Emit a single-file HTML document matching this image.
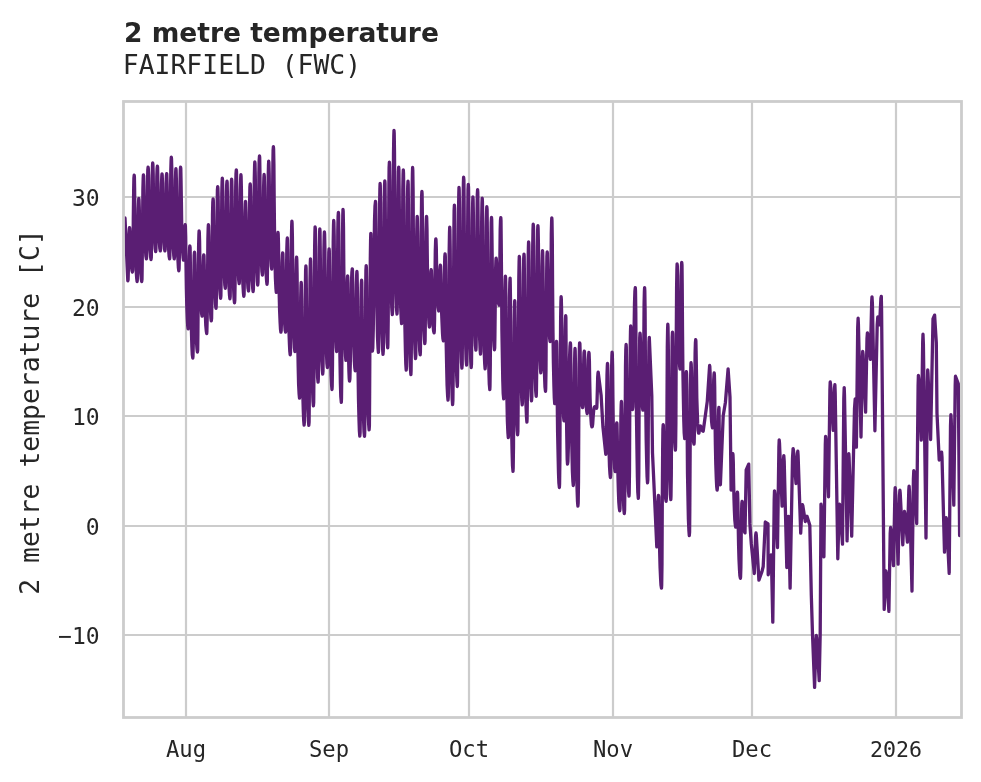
<!DOCTYPE html><html><head><meta charset="utf-8"><title>2 metre temperature</title>
<style>html,body{margin:0;padding:0;background:#fff;overflow:hidden;width:981px;height:782px;}svg{display:block;will-change:transform;}text{fill:#262626;}.m{font-family:"DejaVu Sans Mono", "Liberation Mono", monospace;}.t{font-family:"DejaVu Sans","Liberation Sans",sans-serif;font-weight:bold;}</style></head><body>
<svg width="981" height="782" viewBox="0 0 981 782">
<rect width="981" height="782" fill="#fff"/>
<g stroke="#cccccc" stroke-width="2.2" fill="none">
<line x1="186" y1="101.5" x2="186" y2="717.5"/>
<line x1="329" y1="101.5" x2="329" y2="717.5"/>
<line x1="469" y1="101.5" x2="469" y2="717.5"/>
<line x1="613" y1="101.5" x2="613" y2="717.5"/>
<line x1="752" y1="101.5" x2="752" y2="717.5"/>
<line x1="896" y1="101.5" x2="896" y2="717.5"/>
<line x1="123.5" y1="197" x2="961.5" y2="197"/>
<line x1="123.5" y1="307" x2="961.5" y2="307"/>
<line x1="123.5" y1="416" x2="961.5" y2="416"/>
<line x1="123.5" y1="526" x2="961.5" y2="526"/>
<line x1="123.5" y1="635" x2="961.5" y2="635"/>
</g>
<clipPath id="c"><rect x="123.5" y="101.5" width="838.0" height="616.0"/></clipPath>
<path clip-path="url(#c)" d="M125.0 218.0 L127.8 280.8 L128.1 279.7 L128.3 272.8 L128.7 251.5 L129.0 234.5 L129.3 229.2 L129.5 227.6 L129.7 228.3 L130.0 232.9 L130.3 244.5 L130.7 255.2 L131.1 262.4 L131.6 267.7 L132.0 270.8 L132.4 272.1 L132.7 270.2 L133.0 257.6 L133.3 218.8 L133.7 187.8 L133.9 178.1 L134.2 175.2 L134.4 176.7 L134.6 187.9 L134.9 215.6 L135.3 241.1 L135.8 258.1 L136.2 270.8 L136.7 278.3 L137.1 281.5 L137.3 279.8 L137.6 269.0 L137.9 235.8 L138.3 209.3 L138.6 201.0 L138.8 198.5 L139.0 199.8 L139.3 208.5 L139.6 230.1 L140.0 249.9 L140.4 263.2 L140.8 273.2 L141.3 279.0 L141.7 281.5 L142.0 279.3 L142.2 265.5 L142.6 222.8 L142.9 188.7 L143.2 178.1 L143.4 174.9 L143.7 176.1 L143.9 185.0 L144.2 206.8 L144.6 226.9 L145.1 240.4 L145.5 250.5 L145.9 256.3 L146.4 258.9 L146.6 257.0 L146.9 245.1 L147.2 208.4 L147.6 179.1 L147.8 169.9 L148.1 167.2 L148.3 168.6 L148.6 178.2 L148.9 202.3 L149.3 224.4 L149.7 239.2 L150.1 250.3 L150.6 256.8 L151.0 259.5 L151.3 257.6 L151.5 245.0 L151.9 206.4 L152.2 175.5 L152.5 165.8 L152.7 162.9 L152.9 164.2 L153.2 173.6 L153.5 196.6 L153.9 217.9 L154.3 232.1 L154.8 242.7 L155.2 248.9 L155.7 251.6 L155.9 249.8 L156.2 238.8 L156.5 204.6 L156.8 177.3 L157.1 168.8 L157.4 166.2 L157.6 167.5 L157.8 176.4 L158.2 198.4 L158.5 218.7 L159.0 232.3 L159.4 242.4 L159.8 248.3 L160.3 250.9 L160.6 249.3 L160.8 239.3 L161.2 208.5 L161.5 183.8 L161.8 176.1 L162.0 173.8 L162.2 175.0 L162.5 183.1 L162.8 203.1 L163.2 221.6 L163.6 233.9 L164.1 243.2 L164.5 248.6 L164.9 250.9 L165.2 249.3 L165.4 239.3 L165.8 208.3 L166.1 183.6 L166.4 175.9 L166.7 173.6 L166.8 174.8 L167.1 183.8 L167.4 206.0 L167.8 226.4 L168.3 240.1 L168.7 250.3 L169.1 256.3 L169.6 258.9 L169.8 256.8 L170.1 243.6 L170.4 202.9 L170.8 170.3 L171.1 160.1 L171.3 157.1 L171.5 158.6 L171.8 169.3 L172.1 195.8 L172.5 220.2 L172.9 236.5 L173.3 248.7 L173.8 255.8 L174.2 258.9 L174.5 257.1 L174.7 245.3 L175.1 209.2 L175.4 180.4 L175.7 171.3 L175.9 168.6 L176.1 170.2 L176.4 180.9 L176.7 207.5 L177.1 232.0 L177.5 248.3 L178.0 260.6 L178.4 267.8 L178.8 270.8 L179.1 268.8 L179.4 255.3 L179.7 213.8 L180.1 180.7 L180.3 170.3 L180.6 167.2 L180.8 168.6 L181.0 178.3 L181.4 202.5 L181.7 224.8 L182.2 239.7 L182.6 250.9 L183.1 257.4 L183.5 260.2 L183.8 259.5 L184.0 254.9 L184.3 240.7 L184.7 229.3 L185.0 225.7 L185.2 224.7 L185.4 226.2 L185.7 237.2 L186.0 264.3 L186.4 289.3 L186.8 305.9 L187.3 318.4 L187.7 325.7 L188.1 328.9 L188.4 327.2 L188.7 316.4 L189.0 283.3 L189.3 256.7 L189.6 248.4 L189.8 245.9 L190.1 247.6 L190.3 259.4 L190.6 288.6 L191.0 315.5 L191.5 333.4 L191.9 346.9 L192.3 354.7 L192.8 358.1 L193.0 356.0 L193.3 342.2 L193.6 299.9 L194.0 266.0 L194.2 255.4 L194.5 252.2 L194.7 253.7 L195.0 264.2 L195.3 290.2 L195.7 314.1 L196.1 330.1 L196.5 342.1 L197.0 349.1 L197.4 352.1 L197.7 349.7 L197.9 333.9 L198.3 285.5 L198.6 246.7 L198.9 234.6 L199.1 230.9 L199.3 232.2 L199.6 241.2 L199.9 263.3 L200.3 283.8 L200.7 297.5 L201.2 307.7 L201.6 313.7 L202.1 316.2 L202.3 315.0 L202.6 307.0 L202.9 282.5 L203.3 262.8 L203.5 256.7 L203.8 254.8 L204.0 256.0 L204.2 264.3 L204.6 284.7 L204.9 303.6 L205.4 316.2 L205.8 325.6 L206.3 331.1 L206.7 333.5 L206.9 331.3 L207.2 317.2 L207.6 273.6 L207.9 238.8 L208.2 227.9 L208.4 224.7 L208.6 226.1 L208.9 236.2 L209.2 261.2 L209.6 284.3 L210.0 299.7 L210.5 311.3 L210.9 318.0 L211.3 320.9 L211.6 318.4 L211.8 302.6 L212.2 253.7 L212.5 214.7 L212.8 202.5 L213.1 198.8 L213.3 200.4 L213.5 211.9 L213.8 240.4 L214.2 266.7 L214.7 284.2 L215.1 297.3 L215.5 305.0 L216.0 308.3 L216.2 305.8 L216.5 290.0 L216.8 241.3 L217.2 202.4 L217.4 190.2 L217.7 186.6 L217.9 188.2 L218.2 200.0 L218.5 229.0 L218.9 255.8 L219.3 273.7 L219.7 287.1 L220.2 294.9 L220.6 298.3 L220.9 295.9 L221.1 280.3 L221.5 232.2 L221.8 193.8 L222.1 181.8 L222.3 178.2 L222.5 179.9 L222.8 191.4 L223.1 220.1 L223.5 246.5 L223.9 264.1 L224.4 277.3 L224.8 285.0 L225.3 288.3 L225.5 286.2 L225.8 272.2 L226.1 229.4 L226.5 195.1 L226.7 184.3 L227.0 181.1 L227.2 182.9 L227.4 195.3 L227.8 225.9 L228.2 254.2 L228.6 273.0 L229.0 287.2 L229.5 295.4 L229.9 298.9 L230.2 296.6 L230.4 281.0 L230.8 233.1 L231.1 194.7 L231.4 182.7 L231.6 179.1 L231.8 181.0 L232.1 194.0 L232.4 226.2 L232.8 255.9 L233.2 275.7 L233.7 290.6 L234.1 299.2 L234.5 302.9 L234.8 300.3 L235.1 283.0 L235.4 229.7 L235.7 187.1 L236.0 173.8 L236.3 169.8 L236.5 171.5 L236.7 183.5 L237.1 213.1 L237.4 240.4 L237.9 258.6 L238.3 272.3 L238.7 280.2 L239.2 283.7 L239.4 281.5 L239.7 267.3 L240.0 223.7 L240.4 188.8 L240.7 177.9 L240.9 174.7 L241.1 176.5 L241.4 189.3 L241.7 220.9 L242.1 250.1 L242.5 269.5 L242.9 284.1 L243.4 292.6 L243.8 296.3 L244.1 294.4 L244.3 282.1 L244.7 244.1 L245.0 213.7 L245.3 204.2 L245.5 201.3 L245.7 202.7 L246.0 212.1 L246.3 235.4 L246.7 256.9 L247.2 271.3 L247.6 282.0 L248.0 288.3 L248.5 291.0 L248.7 288.8 L249.0 274.9 L249.3 232.1 L249.7 197.8 L249.9 187.1 L250.2 183.9 L250.4 185.5 L250.7 196.8 L251.0 224.8 L251.3 250.7 L251.8 267.9 L252.2 280.9 L252.7 288.4 L253.1 291.6 L253.4 289.1 L253.6 272.2 L254.0 220.3 L254.3 178.7 L254.6 165.8 L254.8 161.8 L255.0 163.7 L255.3 176.6 L255.6 208.7 L256.0 238.2 L256.4 257.9 L256.9 272.7 L257.3 281.3 L257.7 285.0 L258.0 282.4 L258.3 265.6 L258.6 214.1 L258.9 172.8 L259.2 159.9 L259.5 156.0 L259.7 157.8 L259.9 170.3 L260.2 201.3 L260.6 229.8 L261.1 248.9 L261.5 263.2 L261.9 271.5 L262.4 275.1 L262.6 273.1 L262.9 260.0 L263.2 219.8 L263.6 187.6 L263.9 177.5 L264.1 174.5 L264.3 176.1 L264.6 187.7 L264.9 216.2 L265.3 242.6 L265.7 260.2 L266.1 273.4 L266.6 281.0 L267.0 284.3 L267.3 281.9 L267.5 265.9 L267.9 216.6 L268.2 177.2 L268.5 164.9 L268.7 161.2 L268.9 162.8 L269.2 174.1 L269.5 202.1 L269.9 228.0 L270.4 245.2 L270.8 258.2 L271.2 265.7 L271.7 269.0 L271.9 266.5 L272.2 250.6 L272.5 201.7 L272.9 162.6 L273.1 150.4 L273.4 146.7 L273.6 148.9 L273.9 164.2 L274.2 202.1 L274.6 237.0 L275.0 260.3 L275.4 277.8 L275.9 288.0 L276.3 292.4 L276.6 291.2 L276.8 283.4 L277.2 259.4 L277.5 240.2 L277.8 234.2 L278.0 232.4 L278.2 233.9 L278.5 244.4 L278.8 270.4 L279.2 294.3 L279.6 310.2 L280.1 322.2 L280.5 329.2 L280.9 332.2 L281.2 330.6 L281.5 320.3 L281.8 288.5 L282.1 263.1 L282.4 255.2 L282.7 252.8 L282.9 254.0 L283.1 262.3 L283.4 283.0 L283.8 302.0 L284.3 314.7 L284.7 324.2 L285.1 329.8 L285.6 332.2 L285.8 330.3 L286.1 318.1 L286.4 280.4 L286.8 250.2 L287.1 240.8 L287.3 238.0 L287.5 239.7 L287.8 252.0 L288.1 282.4 L288.5 310.4 L288.9 329.1 L289.4 343.2 L289.8 351.4 L290.2 354.9 L290.5 352.2 L290.7 334.8 L291.1 281.4 L291.4 238.6 L291.7 225.2 L291.9 221.2 L292.1 223.2 L292.4 236.9 L292.7 270.8 L293.1 302.1 L293.6 322.9 L294.0 338.6 L294.4 347.7 L294.9 351.6 L295.1 349.8 L295.4 337.5 L295.7 299.7 L296.1 269.5 L296.3 260.0 L296.6 257.2 L296.8 259.3 L297.1 274.1 L297.4 310.8 L297.8 344.6 L298.2 367.1 L298.6 384.1 L299.1 393.9 L299.5 398.2 L299.8 395.9 L300.0 380.8 L300.4 334.5 L300.7 297.5 L301.0 285.9 L301.2 282.4 L301.4 284.6 L301.7 299.6 L302.0 336.6 L302.4 370.8 L302.8 393.6 L303.3 410.8 L303.7 420.7 L304.1 425.0 L304.4 421.8 L304.7 401.1 L305.0 337.5 L305.4 286.5 L305.6 270.6 L305.9 265.8 L306.1 268.2 L306.3 285.0 L306.6 326.5 L307.0 364.8 L307.5 390.3 L307.9 409.5 L308.4 420.6 L308.8 425.4 L309.1 422.1 L309.3 400.4 L309.6 333.8 L310.0 280.6 L310.3 263.9 L310.5 258.9 L310.7 261.1 L311.0 276.6 L311.3 314.8 L311.7 350.0 L312.1 373.6 L312.6 391.2 L313.0 401.5 L313.4 405.9 L313.7 402.3 L313.9 379.0 L314.3 307.4 L314.6 250.1 L314.9 232.2 L315.1 226.9 L315.4 229.2 L315.6 245.5 L315.9 285.9 L316.3 323.2 L316.8 348.0 L317.2 366.7 L317.6 377.6 L318.1 382.2 L318.3 379.1 L318.6 359.2 L318.9 297.8 L319.3 248.7 L319.6 233.4 L319.8 228.8 L320.0 231.0 L320.2 246.2 L320.6 284.0 L321.0 318.8 L321.4 342.0 L321.8 359.5 L322.3 369.6 L322.7 374.0 L323.0 371.1 L323.2 352.6 L323.6 295.8 L323.9 250.3 L324.2 236.1 L324.4 231.8 L324.6 233.8 L324.9 248.1 L325.2 283.4 L325.6 316.0 L326.0 337.7 L326.5 354.0 L326.9 363.5 L327.4 367.6 L327.6 365.2 L327.9 349.8 L328.2 302.3 L328.6 264.3 L328.8 252.4 L329.1 248.8 L329.3 250.9 L329.5 265.7 L329.9 302.3 L330.2 336.1 L330.7 358.6 L331.1 375.5 L331.6 385.3 L332.0 389.5 L332.2 386.1 L332.5 364.1 L332.9 296.5 L333.2 242.3 L333.5 225.4 L333.7 220.4 L333.9 222.3 L334.2 236.1 L334.5 270.2 L334.9 301.8 L335.3 322.8 L335.8 338.5 L336.2 347.7 L336.6 351.6 L336.9 348.9 L337.1 330.8 L337.5 275.0 L337.8 230.5 L338.1 216.5 L338.4 212.4 L338.6 215.2 L338.8 235.2 L339.1 284.6 L339.5 330.2 L340.0 360.6 L340.4 383.4 L340.8 396.7 L341.3 402.4 L341.5 398.6 L341.8 373.5 L342.1 296.3 L342.5 234.5 L342.8 215.2 L343.0 209.4 L343.2 211.7 L343.5 227.5 L343.8 266.8 L344.2 303.0 L344.6 327.1 L345.0 345.2 L345.5 355.8 L345.9 360.3 L346.2 358.6 L346.4 347.6 L346.8 313.8 L347.1 286.8 L347.4 278.3 L347.6 275.8 L347.8 277.4 L347.9 288.4 L348.1 315.8 L348.4 341.1 L348.6 358.0 L348.9 370.6 L349.2 378.0 L349.5 381.1 L349.9 378.9 L350.3 364.3 L350.9 319.3 L351.4 283.4 L351.9 272.1 L352.3 268.8 L352.5 270.3 L352.7 281.0 L353.1 307.6 L353.4 332.1 L353.9 348.4 L354.3 360.7 L354.8 367.9 L355.2 370.9 L355.4 368.9 L355.7 356.0 L356.1 316.2 L356.4 284.4 L356.7 274.4 L356.9 271.4 L357.1 273.9 L357.4 291.2 L357.7 334.0 L358.1 373.5 L358.5 399.8 L359.0 419.6 L359.4 431.1 L359.8 436.1 L360.1 432.9 L360.4 412.7 L360.7 350.3 L361.0 300.4 L361.3 284.9 L361.6 280.2 L361.8 282.5 L362.0 298.9 L362.3 339.6 L362.7 377.1 L363.2 402.1 L363.6 420.8 L364.0 431.8 L364.5 436.4 L364.7 433.0 L365.0 410.8 L365.3 342.5 L365.7 287.8 L365.9 270.7 L366.2 265.6 L366.4 268.0 L366.7 285.3 L367.0 328.0 L367.4 367.4 L367.8 393.7 L368.2 413.4 L368.7 424.9 L369.1 429.8 L369.4 425.9 L369.6 400.3 L370.0 321.7 L370.3 258.8 L370.6 239.2 L370.8 233.3 L370.9 235.0 L371.1 247.4 L371.2 278.0 L371.4 306.2 L371.7 325.1 L371.9 339.2 L372.1 347.4 L372.4 351.0 L372.8 348.0 L373.3 328.5 L373.9 268.7 L374.5 220.8 L375.0 205.9 L375.5 201.4 L375.7 203.7 L375.9 219.5 L376.3 258.8 L376.6 295.0 L377.1 319.1 L377.5 337.2 L378.0 347.8 L378.4 352.3 L378.6 348.9 L378.9 327.0 L379.2 259.4 L379.6 205.4 L379.9 188.5 L380.1 183.5 L380.3 186.0 L380.6 204.0 L380.9 248.4 L381.3 289.4 L381.7 316.7 L382.2 337.2 L382.6 349.2 L383.0 354.3 L383.3 350.8 L383.6 328.3 L383.9 258.9 L384.2 203.4 L384.5 186.0 L384.8 180.8 L385.0 183.3 L385.2 200.9 L385.5 244.3 L385.9 284.4 L386.4 311.1 L386.8 331.2 L387.2 342.9 L387.7 347.9 L387.9 344.2 L388.2 320.1 L388.5 245.8 L388.9 186.3 L389.1 167.8 L389.4 162.2 L389.6 164.5 L389.9 180.5 L390.2 220.1 L390.6 256.7 L391.0 281.1 L391.4 299.4 L391.9 310.1 L392.3 314.7 L392.6 311.0 L392.8 287.0 L393.2 213.3 L393.5 154.3 L393.8 135.8 L394.0 130.3 L394.2 133.1 L394.5 152.3 L394.8 200.1 L395.2 244.2 L395.6 273.6 L396.1 295.6 L396.5 308.5 L397.0 314.0 L397.2 311.1 L397.5 292.0 L397.8 233.2 L398.2 186.2 L398.4 171.5 L398.7 167.1 L398.9 169.5 L399.1 185.9 L399.5 226.6 L399.8 264.2 L400.3 289.2 L400.7 308.0 L401.2 318.9 L401.6 323.6 L401.9 320.6 L402.1 300.6 L402.5 239.0 L402.8 189.8 L403.1 174.4 L403.3 169.8 L403.5 172.8 L403.8 193.8 L404.1 245.9 L404.5 294.0 L404.9 326.1 L405.4 350.1 L405.8 364.1 L406.2 370.2 L406.5 366.4 L406.8 341.8 L407.1 266.2 L407.4 205.8 L407.7 186.9 L408.0 181.2 L408.2 184.1 L408.4 204.4 L408.7 254.7 L409.1 301.1 L409.6 332.0 L410.0 355.2 L410.4 368.8 L410.9 374.6 L411.1 370.4 L411.4 343.5 L411.7 260.7 L412.1 194.4 L412.4 173.7 L412.6 167.5 L412.8 170.4 L413.1 190.4 L413.4 240.1 L413.8 286.0 L414.2 316.6 L414.6 339.5 L415.1 352.9 L415.5 358.6 L415.8 355.8 L416.0 337.3 L416.4 280.4 L416.7 234.9 L417.0 220.7 L417.2 216.4 L417.4 218.5 L417.7 233.0 L418.0 269.0 L418.4 302.3 L418.8 324.4 L419.3 341.0 L419.7 350.7 L420.2 354.9 L420.4 351.6 L420.7 330.4 L421.0 265.0 L421.4 212.7 L421.6 196.3 L421.9 191.4 L422.1 193.7 L422.3 209.7 L422.7 249.2 L423.1 285.8 L423.5 310.1 L423.9 328.4 L424.4 339.0 L424.8 343.6 L425.1 341.0 L425.3 324.5 L425.7 273.6 L426.0 232.8 L426.3 220.1 L426.5 216.3 L426.7 217.9 L427.0 229.6 L427.3 258.3 L427.7 284.9 L428.1 302.6 L428.6 315.9 L429.0 323.6 L429.4 327.0 L429.7 325.8 L430.0 318.4 L430.3 295.5 L430.6 277.1 L430.9 271.4 L431.2 269.7 L431.4 270.7 L431.6 277.3 L431.9 293.7 L432.3 308.9 L432.8 319.0 L433.2 326.6 L433.6 331.0 L434.1 332.9 L434.3 331.1 L434.6 318.8 L434.9 281.2 L435.3 251.1 L435.6 241.7 L435.8 238.9 L436.0 239.9 L436.3 247.5 L436.6 266.3 L437.0 283.6 L437.4 295.1 L437.8 303.8 L438.3 308.8 L438.7 311.0 L439.0 310.1 L439.2 304.1 L439.6 285.8 L439.9 271.1 L440.2 266.6 L440.4 265.2 L440.6 266.3 L440.9 274.3 L441.2 294.0 L441.6 312.1 L442.1 324.3 L442.5 333.3 L442.9 338.6 L443.4 340.9 L443.6 339.2 L443.9 327.8 L444.2 293.0 L444.6 265.1 L444.8 256.4 L445.1 253.8 L445.3 255.9 L445.6 271.3 L445.9 309.4 L446.2 344.5 L446.7 367.9 L447.1 385.4 L447.6 395.7 L448.0 400.1 L448.3 396.6 L448.5 374.1 L448.9 305.0 L449.2 249.7 L449.5 232.4 L449.7 227.2 L449.9 229.8 L450.2 248.5 L450.5 294.6 L450.9 337.2 L451.3 365.7 L451.8 387.0 L452.2 399.4 L452.6 404.7 L452.9 400.7 L453.2 374.8 L453.5 295.0 L453.9 231.2 L454.1 211.2 L454.4 205.2 L454.6 208.0 L454.8 227.0 L455.1 274.1 L455.5 317.6 L456.0 346.6 L456.4 368.4 L456.9 381.1 L457.3 386.5 L457.5 382.5 L457.8 356.6 L458.1 277.0 L458.5 213.3 L458.8 193.4 L459.0 187.4 L459.2 190.2 L459.5 209.1 L459.8 256.1 L460.2 299.5 L460.6 328.4 L461.1 350.1 L461.5 362.7 L461.9 368.2 L462.2 364.4 L462.4 339.5 L462.8 263.1 L463.1 202.0 L463.4 182.9 L463.6 177.2 L463.9 180.0 L464.1 199.8 L464.4 248.7 L464.8 293.8 L465.2 323.9 L465.7 346.4 L466.1 359.6 L466.6 365.2 L466.8 361.6 L467.1 338.1 L467.4 265.8 L467.8 207.9 L468.0 189.8 L468.3 184.4 L468.5 187.1 L468.8 206.4 L469.1 254.0 L469.4 297.9 L469.9 327.2 L470.3 349.2 L470.8 362.0 L471.2 367.5 L471.5 364.1 L471.7 341.9 L472.1 273.6 L472.4 218.9 L472.7 201.9 L472.9 196.8 L473.1 199.1 L473.4 215.2 L473.7 255.1 L474.1 291.9 L474.5 316.5 L475.0 334.9 L475.4 345.6 L475.9 350.2 L476.1 347.0 L476.4 326.1 L476.7 261.9 L477.1 210.6 L477.3 194.5 L477.6 189.7 L477.8 192.2 L478.0 209.4 L478.4 252.2 L478.7 291.7 L479.2 318.0 L479.6 337.8 L480.1 349.3 L480.5 354.2 L480.7 351.1 L481.0 330.8 L481.3 268.3 L481.7 218.4 L482.0 202.8 L482.2 198.1 L482.4 200.6 L482.7 218.6 L483.0 263.0 L483.4 303.9 L483.8 331.3 L484.2 351.8 L484.7 363.7 L485.1 368.8 L485.4 365.6 L485.6 344.5 L486.0 279.7 L486.3 227.8 L486.6 211.6 L486.8 206.7 L487.1 209.5 L487.3 228.7 L487.6 276.2 L488.0 320.2 L488.4 349.4 L488.9 371.4 L489.3 384.2 L489.8 389.7 L490.0 386.2 L490.3 363.9 L490.6 294.9 L491.0 239.7 L491.2 222.5 L491.5 217.3 L491.7 219.3 L491.9 233.2 L492.3 267.7 L492.6 299.5 L493.1 320.7 L493.5 336.6 L494.0 345.9 L494.4 349.8 L494.7 348.0 L494.9 336.1 L495.3 299.4 L495.6 270.1 L495.9 260.9 L496.1 258.1 L496.3 258.9 L496.6 263.8 L496.9 276.0 L497.3 287.3 L497.7 294.9 L498.2 300.5 L498.6 303.8 L499.1 305.2 L499.3 303.4 L499.6 292.1 L499.9 257.0 L500.2 229.0 L500.5 220.2 L500.8 217.6 L501.0 220.3 L501.2 239.4 L501.6 286.5 L501.9 330.0 L502.4 359.1 L502.8 380.8 L503.2 393.5 L503.7 398.9 L503.9 396.5 L504.2 380.5 L504.6 331.4 L504.9 292.1 L505.2 279.8 L505.4 276.1 L505.6 278.5 L505.9 295.5 L506.2 337.4 L506.6 376.2 L507.0 402.0 L507.4 421.4 L507.9 432.7 L508.3 437.5 L508.6 434.3 L508.8 413.6 L509.2 349.8 L509.5 298.8 L509.8 282.9 L510.1 278.1 L510.2 281.0 L510.5 301.3 L510.8 351.5 L511.2 397.9 L511.6 428.9 L512.1 452.1 L512.5 465.6 L513.0 471.4 L513.2 468.0 L513.5 445.8 L513.8 377.5 L514.2 322.9 L514.5 305.8 L514.7 300.7 L514.9 302.7 L515.1 316.8 L515.5 351.7 L515.9 383.9 L516.3 405.3 L516.7 421.4 L517.2 430.8 L517.6 434.8 L517.9 431.3 L518.1 408.1 L518.5 336.7 L518.8 279.6 L519.1 261.8 L519.3 256.4 L519.5 258.6 L519.8 274.2 L520.1 312.9 L520.5 348.5 L520.9 372.3 L521.4 390.1 L521.8 400.5 L522.2 404.9 L522.5 401.9 L522.8 382.3 L523.1 322.0 L523.5 273.8 L523.7 258.7 L524.0 254.2 L524.2 256.7 L524.4 274.3 L524.8 318.0 L525.1 358.4 L525.6 385.2 L526.0 405.4 L526.5 417.2 L526.9 422.2 L527.1 418.6 L527.4 395.2 L527.8 323.1 L528.1 265.4 L528.4 247.3 L528.6 241.9 L528.8 244.3 L529.1 261.0 L529.4 302.4 L529.8 340.5 L530.2 366.0 L530.6 385.1 L531.1 396.2 L531.5 400.9 L531.8 397.4 L532.0 374.4 L532.4 303.8 L532.7 247.2 L533.0 229.6 L533.2 224.2 L533.5 226.8 L533.7 244.9 L534.0 289.6 L534.4 330.9 L534.9 358.4 L535.3 379.1 L535.7 391.1 L536.2 396.3 L536.4 392.9 L536.7 370.7 L537.0 302.4 L537.4 247.8 L537.6 230.7 L537.9 225.6 L538.1 227.8 L538.4 243.2 L538.7 281.5 L539.1 316.8 L539.5 340.4 L539.9 358.0 L540.4 368.3 L540.8 372.8 L541.1 370.3 L541.3 354.4 L541.7 305.6 L542.0 266.4 L542.3 254.2 L542.5 250.6 L542.7 252.7 L543.0 267.5 L543.3 304.1 L543.7 337.9 L544.1 360.4 L544.6 377.3 L545.0 387.1 L545.5 391.4 L545.7 388.6 L546.0 370.4 L546.3 314.7 L546.7 270.0 L546.9 256.1 L547.2 251.9 L547.4 253.2 L547.6 262.6 L548.0 285.9 L548.3 307.5 L548.8 321.8 L549.2 332.6 L549.7 338.8 L550.1 341.5 L550.4 339.1 L550.6 323.0 L551.0 273.5 L551.3 233.9 L551.6 221.6 L551.8 217.9 L552.0 220.7 L552.3 240.2 L552.6 288.4 L553.0 333.0 L553.4 362.7 L553.9 385.0 L554.3 398.0 L554.7 403.6 L555.0 402.4 L555.2 394.3 L555.6 369.4 L555.9 349.6 L556.2 343.4 L556.5 341.5 L556.7 343.7 L556.9 359.0 L557.2 397.0 L557.6 432.0 L558.1 455.4 L558.5 472.9 L558.9 483.1 L559.4 487.5 L559.6 483.7 L559.9 458.9 L560.2 382.6 L560.6 321.5 L560.9 302.4 L561.1 296.7 L561.3 298.6 L561.6 311.6 L561.9 343.9 L562.3 373.7 L562.7 393.6 L563.1 408.5 L563.6 417.2 L564.0 420.9 L564.3 418.8 L564.5 405.1 L564.9 363.0 L565.2 329.3 L565.5 318.7 L565.7 315.6 L565.9 317.8 L566.0 333.4 L566.2 372.0 L566.4 407.6 L566.7 431.4 L567.0 449.2 L567.2 459.6 L567.5 464.1 L567.9 461.7 L568.4 445.9 L568.9 397.4 L569.5 358.6 L570.0 346.5 L570.4 342.8 L570.6 345.0 L570.8 359.9 L571.2 397.1 L571.5 431.3 L572.0 454.1 L572.4 471.3 L572.9 481.3 L573.3 485.5 L573.5 482.8 L573.8 465.0 L574.1 410.2 L574.5 366.4 L574.8 352.6 L575.0 348.5 L575.2 350.9 L575.5 367.4 L575.8 408.4 L576.2 446.2 L576.6 471.5 L577.1 490.4 L577.5 501.4 L577.9 506.1 L578.2 502.9 L578.5 481.6 L578.8 416.3 L579.1 364.1 L579.4 347.7 L579.6 342.8 L579.9 343.8 L580.1 350.6 L580.4 367.4 L580.8 383.0 L581.3 393.3 L581.7 401.1 L582.1 405.6 L582.6 407.6 L582.8 406.5 L583.1 399.1 L583.4 376.6 L583.8 358.5 L584.0 352.9 L584.3 351.2 L584.5 352.1 L584.8 358.7 L585.1 374.9 L585.5 389.9 L585.9 399.9 L586.3 407.3 L586.8 411.7 L587.2 413.6 L587.5 412.4 L587.7 404.4 L588.1 380.0 L588.4 360.5 L588.7 354.4 L588.9 352.5 L589.1 353.6 L589.4 361.4 L589.7 380.8 L590.1 398.6 L590.5 410.5 L591.0 419.4 L591.4 424.6 L591.9 426.9 L592.3 426.5 L592.7 423.9 L593.2 415.9 L593.8 409.4 L594.2 407.4 L594.6 406.8 L594.8 406.9 L594.9 407.0 L595.1 407.4 L595.4 407.7 L595.6 407.9 L595.9 408.1 L596.2 408.2 L596.5 408.3 L596.8 407.5 L597.0 402.8 L597.4 388.4 L597.7 376.8 L598.0 373.1 L598.2 372.1 L601.1 395.2 L602.9 426.5 L605.8 454.3 L606.0 452.5 L606.3 440.7 L606.6 404.3 L607.0 375.2 L607.3 366.2 L607.5 363.4 L607.7 365.1 L608.0 377.1 L608.3 406.8 L608.7 434.2 L609.1 452.4 L609.5 466.1 L610.0 474.1 L610.4 477.6 L610.7 475.1 L610.9 458.8 L611.3 408.6 L611.6 368.4 L611.9 355.9 L612.1 352.1 L612.3 353.9 L612.6 366.5 L612.9 397.5 L613.3 426.2 L613.8 445.3 L614.2 459.6 L614.6 468.0 L615.1 471.6 L615.3 470.6 L615.6 464.3 L615.9 444.8 L616.3 429.1 L616.5 424.3 L616.8 422.8 L617.0 424.1 L617.2 433.4 L617.6 456.2 L618.0 477.4 L618.4 491.4 L618.8 502.0 L619.3 508.1 L619.7 510.8 L620.0 508.6 L620.2 494.4 L620.6 450.7 L620.9 415.7 L621.2 404.8 L621.4 401.5 L621.6 403.2 L621.9 415.0 L622.2 444.1 L622.6 470.9 L623.0 488.8 L623.5 502.3 L623.9 510.1 L624.3 513.5 L624.6 510.1 L624.9 488.1 L625.2 420.5 L625.5 366.5 L625.8 349.6 L626.1 344.5 L626.3 346.8 L626.5 362.7 L626.9 402.1 L627.2 438.5 L627.7 462.8 L628.1 481.0 L628.5 491.6 L629.0 496.2 L629.2 492.8 L629.5 470.6 L629.8 402.5 L630.2 348.0 L630.5 331.0 L630.7 325.9 L630.8 327.1 L631.0 335.9 L631.2 357.7 L631.4 377.7 L631.7 391.1 L632.0 401.2 L632.2 407.0 L632.5 409.5 L632.9 407.1 L633.4 391.2 L633.9 342.5 L634.5 303.4 L634.9 291.3 L635.3 287.6 L635.5 290.8 L635.8 312.9 L636.1 367.7 L636.5 418.3 L637.0 452.1 L637.4 477.4 L637.8 492.1 L638.3 498.4 L638.5 495.1 L638.8 473.6 L639.1 407.5 L639.5 354.6 L639.7 338.0 L640.0 333.1 L640.2 334.2 L640.5 342.3 L640.8 362.4 L641.1 380.9 L641.6 393.2 L642.0 402.5 L642.5 407.9 L642.9 410.2 L643.2 407.7 L643.4 391.8 L643.8 342.8 L644.1 303.5 L644.4 291.3 L644.6 287.6 L644.8 290.5 L645.1 311.0 L645.4 361.8 L645.8 408.7 L646.2 439.9 L646.7 463.4 L647.1 477.0 L647.5 482.9 L647.8 480.0 L648.1 461.1 L648.4 402.9 L648.8 356.4 L649.0 341.8 L649.3 337.4 L651.8 396.0 L652.5 453.0 L653.8 481.0 L656.8 546.9 L657.1 545.8 L657.3 539.2 L657.7 518.6 L658.0 502.1 L658.3 497.0 L658.5 495.4 L658.8 496.8 L659.0 506.6 L659.3 530.6 L659.7 552.9 L660.1 567.7 L660.6 578.8 L661.0 585.3 L661.5 588.1 L661.7 584.8 L662.0 563.5 L662.3 498.1 L662.7 445.8 L662.9 429.4 L663.2 424.6 L663.4 425.7 L663.6 433.8 L664.0 453.7 L664.4 472.1 L664.8 484.4 L665.2 493.6 L665.7 499.0 L666.1 501.3 L666.4 497.8 L666.6 474.7 L667.0 403.9 L667.3 347.2 L667.6 329.5 L667.8 324.2 L668.0 326.8 L668.3 345.2 L668.6 390.8 L669.0 432.9 L669.4 461.0 L669.9 482.0 L670.3 494.3 L670.8 499.6 L671.0 496.2 L671.3 474.4 L671.6 407.5 L672.0 353.9 L672.2 337.1 L672.5 332.1 L672.7 333.9 L672.9 346.3 L673.2 377.0 L673.6 405.3 L674.1 424.2 L674.5 438.4 L675.0 446.6 L675.4 450.2 L675.6 446.4 L675.9 422.2 L676.2 347.7 L676.6 288.1 L676.9 269.5 L677.1 263.9 L677.3 265.5 L677.6 276.5 L677.9 303.8 L678.3 329.0 L678.7 345.9 L679.1 358.5 L679.6 365.8 L680.0 369.0 L680.3 366.9 L680.5 353.0 L680.9 310.3 L681.2 276.1 L681.5 265.5 L681.7 262.3 L682.0 264.9 L682.2 283.4 L682.5 329.3 L682.9 371.6 L683.4 399.8 L683.8 420.9 L684.2 433.2 L684.7 438.5 L684.9 437.2 L685.2 428.5 L685.5 401.7 L685.9 380.3 L686.1 373.6 L686.4 371.6 L686.6 374.1 L686.9 391.3 L687.2 433.9 L687.5 473.3 L688.0 499.5 L688.4 519.2 L688.9 530.6 L689.3 535.6 L689.6 532.1 L689.8 509.6 L690.2 440.5 L690.5 385.2 L690.8 367.9 L691.0 362.7 L691.2 363.9 L691.5 372.5 L691.8 393.7 L692.2 413.2 L692.6 426.2 L693.1 436.0 L693.5 441.7 L694.0 444.2 L694.2 442.1 L694.5 428.5 L694.8 386.7 L695.1 353.3 L695.4 342.8 L695.7 339.7 L695.9 341.1 L696.1 350.9 L696.5 375.2 L696.8 397.7 L697.3 412.6 L697.7 423.9 L698.1 430.4 L698.6 433.2 L698.9 433.1 L699.1 432.1 L699.5 429.2 L699.8 426.8 L700.1 426.1 L700.3 425.9 L700.5 426.0 L700.8 426.5 L701.1 427.9 L701.5 429.2 L701.9 430.0 L702.4 430.7 L702.8 431.1 L703.2 431.2 L707.3 401.1 L709.6 365.5 L709.8 366.4 L710.1 373.0 L710.4 389.2 L710.8 404.1 L711.2 414.1 L711.6 421.6 L712.1 426.0 L712.5 427.9 L712.8 426.8 L713.0 419.6 L713.4 397.6 L713.7 380.0 L714.0 374.5 L714.2 372.9 L714.4 374.6 L714.7 387.0 L715.0 417.4 L715.4 445.6 L715.8 464.3 L716.3 478.4 L716.7 486.6 L717.1 490.1 L717.4 488.5 L717.7 477.7 L718.0 444.6 L718.4 418.2 L718.6 409.9 L718.9 407.4 L719.0 408.6 L719.1 416.7 L719.3 436.9 L719.5 455.4 L719.7 467.8 L720.0 477.1 L720.2 482.5 L720.4 484.8 L723.2 415.8 L725.4 402.5 L728.1 368.9 L730.0 397.2 L731.1 490.1 L731.3 489.4 L731.6 484.6 L731.9 470.0 L732.3 458.3 L732.5 454.6 L732.8 453.6 L733.0 454.7 L733.3 462.4 L733.6 481.5 L734.0 499.1 L734.4 510.9 L734.8 519.8 L735.3 524.9 L735.7 527.1 L736.0 526.4 L736.2 521.9 L736.6 507.9 L736.9 496.6 L737.2 493.1 L737.4 492.1 L737.6 493.4 L737.9 502.4 L738.2 524.9 L738.6 545.5 L739.0 559.3 L739.5 569.7 L739.9 575.7 L740.4 578.3 L740.6 576.8 L740.9 566.8 L741.2 536.0 L741.6 511.4 L741.8 503.7 L742.1 501.4 L742.3 501.9 L742.5 505.2 L742.9 513.4 L743.2 520.9 L743.7 526.0 L744.1 529.8 L744.6 532.0 L745.0 532.9 L746.2 469.8 L748.7 464.1 L749.9 523.9 L751.3 543.9 L754.3 573.5 L755.6 535.7 L756.0 532.9 L756.3 535.2 L758.9 580.1 L761.9 571.8 L763.2 566.5 L765.3 522.0 L768.0 523.9 L768.2 574.8 L771.2 554.8 L771.4 558.2 L772.8 622.2 L774.2 500.0 L774.5 490.8 L774.9 493.6 L777.5 547.5 L778.9 447.4 L779.2 439.8 L779.5 443.1 L782.1 506.2 L783.5 459.1 L783.8 455.6 L784.2 461.1 L786.8 567.5 L788.1 519.9 L788.5 516.3 L788.7 519.9 L790.1 588.1 L792.5 458.4 L793.1 448.6 L793.5 450.4 L796.0 483.5 L797.4 453.4 L797.8 451.2 L798.1 455.3 L800.7 533.2 L802.0 506.7 L802.4 504.7 L802.8 505.6 L805.3 521.6 L806.7 516.7 L807.0 516.3 L809.8 525.3 L811.3 595.0 L812.5 634.0 L814.6 687.4 L816.0 639.1 L816.3 635.5 L816.7 637.8 L819.2 680.7 L820.2 634.0 L821.0 504.1 L821.3 506.7 L823.9 556.8 L825.3 444.7 L825.6 436.3 L826.0 439.3 L828.5 496.8 L829.9 390.0 L830.2 382.0 L830.6 384.4 L833.2 430.3 L834.5 387.9 L834.9 384.7 L835.2 393.4 L837.8 558.8 L839.2 507.9 L839.5 504.1 L839.9 506.1 L842.5 544.2 L843.8 398.6 L844.2 387.6 L844.5 395.3 L847.1 540.9 L848.5 459.7 L848.8 453.6 L849.1 457.7 L851.7 536.2 L854.5 408.5 L855.2 398.9 L855.4 401.3 L856.4 447.2 L857.7 327.2 L858.1 318.2 L858.4 324.1 L861.0 437.0 L862.4 357.4 L862.7 351.4 L863.1 354.5 L865.6 412.2 L867.0 338.4 L867.4 332.8 L867.7 334.2 L870.3 359.4 L871.7 301.3 L872.0 296.9 L872.4 303.6 L874.9 430.8 L877.2 324.9 L877.8 316.9 L878.0 317.3 L879.6 324.9 L880.9 298.3 L881.3 296.3 L881.6 311.9 L884.2 609.4 L885.6 573.6 L885.9 570.9 L886.3 572.9 L888.9 611.4 L890.2 533.3 L890.6 527.5 L890.9 529.4 L893.5 565.6 L894.9 493.0 L895.2 487.6 L895.6 491.4 L898.1 564.2 L899.5 495.4 L899.9 490.2 L900.2 492.9 L902.8 544.8 L904.1 513.8 L904.5 511.5 L904.8 513.0 L907.4 542.1 L908.8 490.1 L909.1 486.2 L909.5 491.5 L912.0 591.1 L913.4 479.1 L913.8 470.7 L914.1 473.3 L916.7 523.5 L918.1 385.7 L918.4 375.4 L918.8 378.6 L921.3 440.1 L922.7 341.6 L923.0 334.2 L923.4 344.4 L926.0 538.1 L927.4 381.8 L927.7 370.0 L928.0 373.5 L930.6 439.5 L933.0 319.0 L934.6 315.1 L936.3 342.5 L937.0 413.5 L939.2 460.0 L941.6 452.2 L942.0 457.2 L944.5 552.2 L945.9 520.1 L946.2 517.7 L946.6 520.5 L949.2 573.4 L950.5 425.7 L950.9 414.6 L951.2 419.1 L953.8 505.2 L955.2 385.3 L955.5 376.2 L958.3 383.8 L959.6 535.5" fill="none" stroke="#5a1e73" stroke-width="3.3" stroke-linejoin="round" stroke-linecap="round"/>
<rect x="123.5" y="101.5" width="838.0" height="616.0" fill="none" stroke="#cccccc" stroke-width="2.8"/>
<text class="t" x="124" y="42" font-size="26.5">2 metre temperature</text>
<text class="m" x="122.8" y="74" font-size="26.4">FAIRFIELD (FWC)</text>
<text class="m" x="186" y="757" font-size="22.2" text-anchor="middle">Aug</text>
<text class="m" x="329" y="757" font-size="22.2" text-anchor="middle">Sep</text>
<text class="m" x="469" y="757" font-size="22.2" text-anchor="middle">Oct</text>
<text class="m" x="613" y="757" font-size="22.2" text-anchor="middle">Nov</text>
<text class="m" x="752" y="757" font-size="22.2" text-anchor="middle">Dec</text>
<text class="m" x="896" y="757" font-size="21.6" text-anchor="middle">2026</text>
<text class="m" x="99.6" y="206.1" font-size="23" text-anchor="end">30</text>
<text class="m" x="99.6" y="316.1" font-size="23" text-anchor="end">20</text>
<text class="m" x="99.6" y="425.1" font-size="23" text-anchor="end">10</text>
<text class="m" x="99.6" y="535.1" font-size="23" text-anchor="end">0</text>
<text class="m" x="99.6" y="644.1" font-size="23" text-anchor="end">−10</text>
<text class="m" font-size="26.4" text-anchor="middle" transform="translate(39.3 412) rotate(-90)">2 metre temperature [C]</text>
</svg></body></html>
